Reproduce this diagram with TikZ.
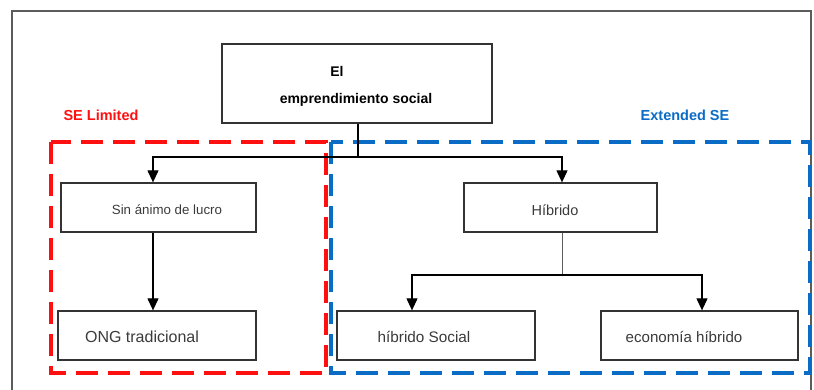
\documentclass[tikz,border=0pt]{standalone}
\usepackage{fontspec}
\setmainfont{Liberation Sans}
\usetikzlibrary{arrows.meta,calc}
\definecolor{boxgray}{HTML}{333333}
\definecolor{txtgray}{HTML}{3A3A3A}
\definecolor{sered}{HTML}{FF1010}
\definecolor{seblue}{HTML}{0A6CC4}
\tikzset{
  box/.style={draw=boxgray, line width=1.3pt, inner sep=0pt},
  boxtext/.style={inner sep=0pt, text=txtgray, font=\fontsize{14.5}{16}\selectfont},
  conn/.style={draw=black, line width=1.1pt},
  arr/.style={conn, -{Triangle[length=12pt,width=11pt]}},
  grp/.style={line width=3.2pt, dash pattern=on 22pt off 10pt},
  grplabel/.style={inner sep=0pt, font=\bfseries\fontsize{14.5}{16}\selectfont}
}
\begin{document}
\begin{tikzpicture}[x=1pt,y=-1pt]
\useasboundingbox (0,0) rectangle (814,389);
\begin{scope}
\clip (0,0) rectangle (814,389);
\draw[draw=boxgray!80, line width=1.2pt] (12,11) rectangle (811,400);
\end{scope}
% group frames
\draw[grp, sered] (51,142) rectangle (326,373);
\draw[grp, seblue] (331,142) rectangle (810,373);
\node[grplabel, text=sered] (lblL) at (101,115) {SE Limited};
\node[grplabel, text=seblue] (lblR) at (685,115) {Extended SE};
% boxes
\node[box, minimum width=270pt, minimum height=79pt] (top) at (357,83.5) {};
\node[inner sep=0pt, font=\bfseries\fontsize{14}{16}\selectfont] (topA) at (337,71) {El};
\node[inner sep=0pt, font=\bfseries\fontsize{14}{16}\selectfont] (topB) at (356,100) {emprendimiento social};
\node[box, minimum width=195pt, minimum height=49pt] (sin) at (158.5,207.5) {};
\node[boxtext, font=\fontsize{13.3}{15}\selectfont] (sinT) at (167,210) {Sin ánimo de lucro};
\node[box, minimum width=198pt, minimum height=49pt] (ong) at (157,335.5) {};
\node[boxtext, font=\fontsize{16}{18}\selectfont] (ongT) at (142,337) {ONG tradicional};
\node[box, minimum width=193pt, minimum height=49pt] (hib) at (560.5,207.5) {};
\node[boxtext] (hibT) at (555,210) {Híbrido};
\node[box, minimum width=198pt, minimum height=49pt] (hs) at (436,335.5) {};
\node[boxtext, font=\fontsize{15.3}{17}\selectfont] (hsT) at (424,337) {híbrido Social};
\node[box, minimum width=197pt, minimum height=49pt] (eh) at (699.5,335.5) {};
\node[boxtext, font=\fontsize{15.1}{17}\selectfont] (ehT) at (684,337) {economía híbrido};
% connectors
\coordinate (j1) at (358,157);
\coordinate (j2) at (562,275);
\draw[conn] (top.south -| j1) -- (j1);
\draw[arr] (j1) -| ([xshift=-5.5pt]sin.north);
\draw[arr] (j1) -| ([xshift=1.5pt]hib.north);
\draw[arr] ([xshift=-5.5pt]sin.south) -- ([xshift=-5.5pt]sin.south |- ong.north);
\draw[conn, draw=boxgray!80, line width=0.9pt] (hib.south -| j2) -- (j2);
\draw[arr] (j2) -| ([xshift=-24pt]hs.north);
\draw[arr] (j2) -| ([xshift=2.5pt]eh.north);
\end{tikzpicture}
\end{document}
